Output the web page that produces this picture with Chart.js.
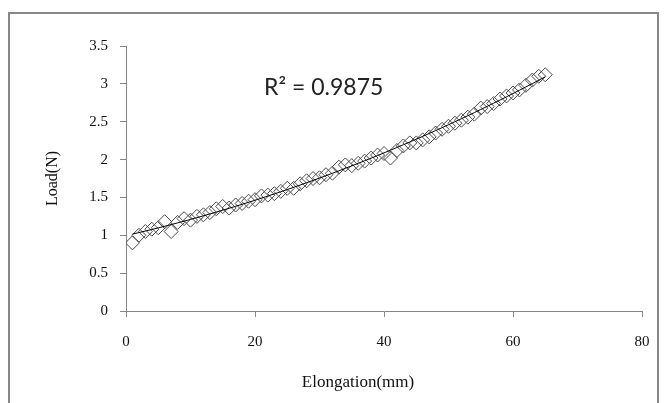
<!DOCTYPE html>
<html lang="en">
<head>
  <meta charset="UTF-8">
  <title>Load vs Elongation</title>
  <script src="https://cdn.jsdelivr.net/npm/chart.js"></script>
  <style>
    html, body { margin: 0; padding: 0; background: #fff; overflow: hidden; }
    .frame {
      position: absolute; left: 8px; top: 12px; width: 651px; height: 420px;
      border: 2px solid #878787; box-sizing: border-box;
    }
    .wrap { position: absolute; left: 0; top: 0; width: 670px; height: 403px; }
  </style>
</head>
<body>
  <div class="frame"></div>
  <div class="wrap"><canvas id="grafico" width="670" height="403"></canvas></div>

  <script>
    // Elongation (mm) and measured load (N)
    const elongation = [1, 2, 3, 4, 5, 6, 7, 8, 9, 10, 11, 12, 13, 14, 15, 16, 17, 18, 19, 20,
      21, 22, 23, 24, 25, 26, 27, 28, 29, 30, 31, 32, 33, 34, 35, 36, 37, 38, 39, 40,
      41, 42, 43, 44, 45, 46, 47, 48, 49, 50, 51, 52, 53, 54, 55, 56, 57, 58, 59, 60,
      61, 62, 63, 64, 65];
    const load = [0.90, 1.00, 1.05, 1.08, 1.10, 1.18, 1.05, 1.17, 1.22, 1.20,
      1.25, 1.27, 1.30, 1.35, 1.38, 1.36, 1.40, 1.42, 1.45, 1.47,
      1.52, 1.53, 1.55, 1.58, 1.62, 1.62, 1.68, 1.72, 1.75, 1.76,
      1.80, 1.82, 1.90, 1.93, 1.92, 1.95, 1.98, 2.02, 2.06, 2.08,
      2.02, 2.12, 2.18, 2.22, 2.22, 2.26, 2.30, 2.35, 2.40, 2.44,
      2.48, 2.52, 2.56, 2.60, 2.68, 2.70, 2.74, 2.80, 2.84, 2.88,
      2.92, 2.98, 3.05, 3.10, 3.12];
    const xTicks = [0, 20, 40, 60, 80];
    const yTicks = [0, 0.5, 1, 1.5, 2, 2.5, 3, 3.5];
    const r2Label = 'R² = 0.9875';
    const xTitle = 'Elongation(mm)';
    const yTitle = 'Load(N)';

    // Polynomial (order 2) trend line fitted to the data
    function polyFit(xs, ys) {
      let n = xs.length, sx = 0, sx2 = 0, sx3 = 0, sx4 = 0, sy = 0, sxy = 0, sx2y = 0;
      for (let i = 0; i < n; i++) {
        const x = xs[i], y = ys[i];
        sx += x; sx2 += x * x; sx3 += x * x * x; sx4 += x * x * x * x;
        sy += y; sxy += x * y; sx2y += x * x * y;
      }
      const m = [[n, sx, sx2, sy], [sx, sx2, sx3, sxy], [sx2, sx3, sx4, sx2y]];
      for (let i = 0; i < 3; i++) {
        for (let k = i + 1; k < 3; k++) {
          const f = m[k][i] / m[i][i];
          for (let j = i; j < 4; j++) m[k][j] -= f * m[i][j];
        }
      }
      const c = [0, 0, 0];
      for (let i = 2; i >= 0; i--) {
        let s = m[i][3];
        for (let j = i + 1; j < 3; j++) s -= m[i][j] * c[j];
        c[i] = s / m[i][i];
      }
      return c;
    }
    const coef = polyFit(elongation, load);
    const trend = elongation.map(x => ({ x: x, y: coef[0] + coef[1] * x + coef[2] * x * x }));

    const pontos = elongation.map((x, i) => ({ x: x, y: load[i] }));

    const axisGray = '#868686';
    const serif = '"Liberation Serif", "Times New Roman", serif';
    const tickFont = { family: serif, size: 15 };

    // R² label and x-axis title (the title sits left of centre in the original)
    const textPlugin = {
      id: 'textos',
      afterDraw(chart) {
        const ctx = chart.ctx;
        ctx.save();
        ctx.font = '23px Lato, "Open Sans", sans-serif';
        ctx.fillStyle = '#222';
        ctx.textBaseline = 'middle';
        ctx.fillText(r2Label, 264, 88);
        ctx.font = '17px ' + serif;
        ctx.fillStyle = '#111';
        ctx.textAlign = 'center';
        ctx.fillText(xTitle, 358, 383);
        ctx.restore();
      }
    };

    const config = {
      type: 'scatter',
      data: {
        datasets: [{
          label: 'Load',
          data: pontos,
          pointStyle: 'rectRot',
          pointRadius: 7,
          pointBorderWidth: 1,
          borderColor: '#4a4a4a',
          backgroundColor: 'rgba(0,0,0,0)',
          order: 2
        }, {
          label: 'Trend',
          type: 'line',
          data: trend,
          borderColor: '#000',
          borderWidth: 1,
          pointRadius: 0,
          fill: false,
          tension: 0,
          order: 1
        }]
      },
      options: {
        responsive: false,
        animation: false,
        events: [],
        layout: { padding: { left: 43, top: 46, right: 28, bottom: 11 } },
        plugins: { legend: { display: false }, tooltip: { enabled: false } },
        scales: {
          x: {
            type: 'linear',
            min: 0, max: 80,
            afterBuildTicks(scale) { scale.ticks = xTicks.map(v => ({ value: v })); },
            afterFit(scale) { scale.height = 81; },
            grid: { drawOnChartArea: false, drawTicks: true, tickLength: 6, color: axisGray },
            border: { display: true, color: axisGray, width: 1 },
            ticks: { color: '#111', font: tickFont, padding: 16, maxRotation: 0, callback: v => String(v) },
            title: { display: false }
          },
          y: {
            type: 'linear',
            min: 0, max: 3.5,
            afterBuildTicks(scale) { scale.ticks = yTicks.map(v => ({ value: v })); },
            afterFit(scale) { scale.width = 83; },
            grid: { drawOnChartArea: false, drawTicks: true, tickLength: 6, color: axisGray },
            border: { display: true, color: axisGray, width: 1 },
            ticks: { color: '#111', font: tickFont, padding: 12, callback: v => String(v) },
            title: {
              display: true, text: yTitle, color: '#111',
              font: { family: serif, size: 16 },
              padding: { top: 0, bottom: 0 }
            }
          }
        }
      },
      plugins: [textPlugin]
    };

    const ctx = document.getElementById('grafico').getContext('2d');
    const grafico = new Chart(ctx, config);
  </script>
</body>
</html>
